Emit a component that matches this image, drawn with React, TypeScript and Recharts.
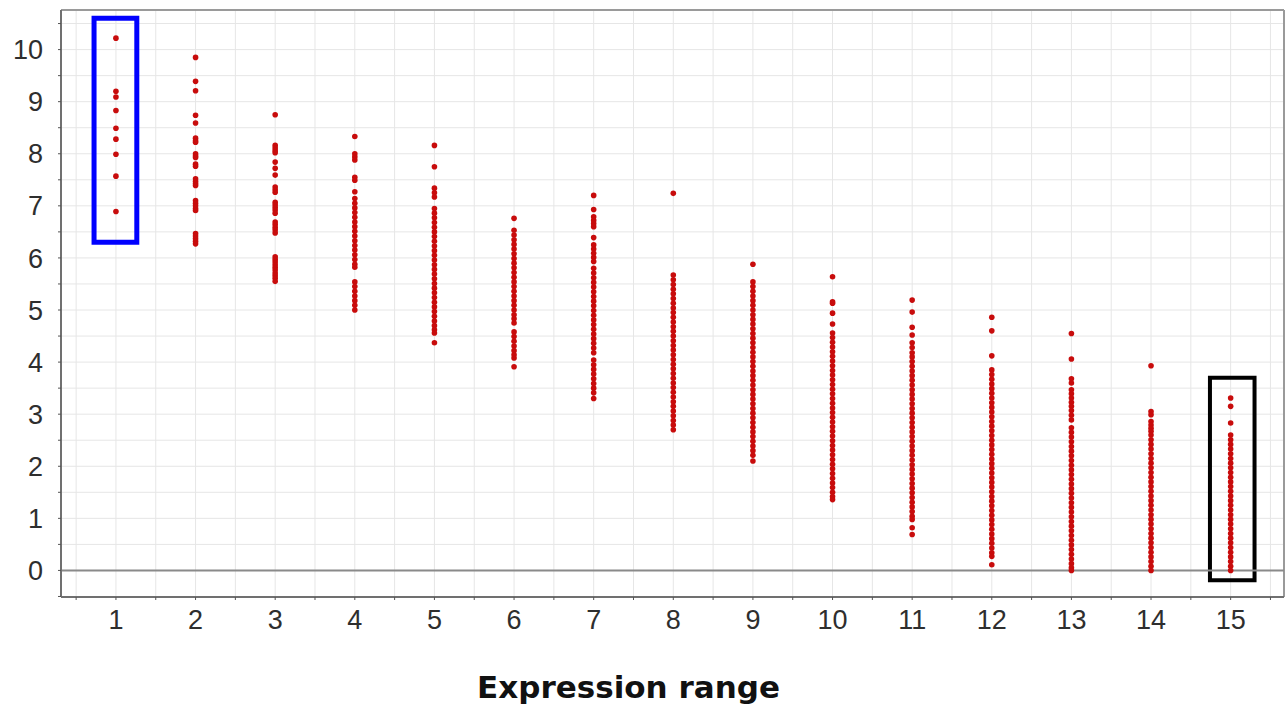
import { ScatterChart, Scatter, XAxis, YAxis, CartesianGrid, ReferenceLine, ReferenceArea } from "recharts";

// expression range categories (x) and the values read per category (y)
const expressionRange = [1, 2, 3, 4, 5, 6, 7, 8, 9, 10, 11, 12, 13, 14, 15];

const range1 = [10.22, 9.2, 9.09, 8.83, 8.49, 8.28, 7.99, 7.57, 6.89];
const range2 = [9.85, 9.39, 9.21, 8.74, 8.59, 8.3, 8.25, 8.22, 8.0, 7.96, 7.93, 7.8, 7.76, 7.52, 7.47, 7.43, 7.39, 7.1, 7.05, 7.0, 6.95, 6.91, 6.47, 6.42, 6.37, 6.32, 6.27];
const range3 = [8.75, 8.16, 8.11, 8.06, 8.02, 7.84, 7.72, 7.59, 7.36, 7.31, 7.26, 7.07, 7.02, 6.97, 6.92, 6.86, 6.69, 6.64, 6.59, 6.54, 6.48, 6.02, 5.97, 5.92, 5.87, 5.82, 5.77, 5.71, 5.66, 5.61, 5.55];
const range4 = [8.33, 8.0, 7.94, 7.88, 7.55, 7.49, 7.27, 7.14, 7.05, 6.96, 6.87, 6.78, 6.69, 6.6, 6.51, 6.42, 6.33, 6.24, 6.15, 6.06, 5.97, 5.88, 5.82, 5.54, 5.45, 5.36, 5.27, 5.18, 5.09, 5.0];
const range5 = [8.16, 7.75, 7.34, 7.25, 7.17, 6.95, 6.86, 6.77, 6.68, 6.59, 6.5, 6.41, 6.32, 6.23, 6.14, 6.05, 5.96, 5.87, 5.78, 5.69, 5.6, 5.51, 5.42, 5.33, 5.24, 5.15, 5.06, 4.97, 4.88, 4.79, 4.7, 4.62, 4.56, 4.37];
const range6 = [6.76, 6.53, 6.44, 6.35, 6.26, 6.17, 6.08, 5.99, 5.9, 5.81, 5.72, 5.63, 5.54, 5.45, 5.36, 5.27, 5.18, 5.09, 5.0, 4.91, 4.83, 4.75, 4.58, 4.49, 4.4, 4.31, 4.22, 4.14, 4.08, 3.91];
const range7 = [7.2, 6.93, 6.79, 6.72, 6.66, 6.6, 6.39, 6.25, 6.17, 6.09, 6.01, 5.93, 5.8, 5.71, 5.62, 5.53, 5.44, 5.35, 5.26, 5.17, 5.08, 4.99, 4.9, 4.81, 4.72, 4.63, 4.54, 4.45, 4.36, 4.27, 4.18, 4.04, 3.95, 3.86, 3.77, 3.68, 3.59, 3.5, 3.41, 3.3];
const range8 = [7.24, 5.67, 5.58, 5.49, 5.4, 5.31, 5.22, 5.13, 5.04, 4.95, 4.86, 4.77, 4.68, 4.59, 4.5, 4.41, 4.32, 4.23, 4.14, 4.05, 3.96, 3.87, 3.78, 3.69, 3.6, 3.51, 3.42, 3.33, 3.24, 3.15, 3.06, 2.97, 2.88, 2.79, 2.7];
const range9 = [5.88, 5.54, 5.45, 5.36, 5.27, 5.18, 5.09, 5.0, 4.91, 4.82, 4.73, 4.64, 4.55, 4.46, 4.37, 4.28, 4.19, 4.1, 4.01, 3.92, 3.83, 3.74, 3.65, 3.56, 3.47, 3.38, 3.29, 3.2, 3.11, 3.02, 2.93, 2.84, 2.75, 2.66, 2.57, 2.48, 2.39, 2.3, 2.21, 2.1];
const range10 = [5.64, 5.16, 5.13, 4.94, 4.73, 4.56, 4.47, 4.38, 4.29, 4.2, 4.11, 4.02, 3.93, 3.84, 3.75, 3.66, 3.57, 3.48, 3.39, 3.3, 3.21, 3.12, 3.03, 2.94, 2.85, 2.76, 2.67, 2.58, 2.49, 2.4, 2.31, 2.22, 2.13, 2.04, 1.95, 1.86, 1.77, 1.68, 1.59, 1.5, 1.42, 1.36];
const range11 = [5.19, 4.96, 4.67, 4.52, 4.37, 4.28, 4.18, 4.1, 4.01, 3.92, 3.83, 3.74, 3.65, 3.56, 3.47, 3.38, 3.29, 3.2, 3.11, 3.02, 2.93, 2.84, 2.75, 2.66, 2.57, 2.48, 2.39, 2.3, 2.21, 2.12, 2.03, 1.94, 1.85, 1.76, 1.67, 1.58, 1.49, 1.4, 1.31, 1.22, 1.13, 1.04, 0.98, 0.82, 0.69];
const range12 = [4.86, 4.6, 4.12, 3.85, 3.76, 3.67, 3.58, 3.49, 3.4, 3.31, 3.22, 3.13, 3.04, 2.95, 2.86, 2.77, 2.68, 2.59, 2.5, 2.41, 2.32, 2.23, 2.14, 2.05, 1.96, 1.87, 1.78, 1.69, 1.6, 1.51, 1.42, 1.33, 1.24, 1.15, 1.06, 0.97, 0.88, 0.79, 0.7, 0.61, 0.52, 0.43, 0.34, 0.27, 0.11];
const range13 = [4.55, 4.06, 3.68, 3.6, 3.47, 3.39, 3.31, 3.23, 3.15, 3.07, 2.98, 2.89, 2.74, 2.65, 2.56, 2.47, 2.38, 2.29, 2.2, 2.11, 2.02, 1.93, 1.84, 1.75, 1.66, 1.57, 1.48, 1.39, 1.3, 1.21, 1.12, 1.03, 0.94, 0.85, 0.76, 0.67, 0.58, 0.49, 0.4, 0.31, 0.22, 0.13, 0.05, 0];
const range14 = [3.93, 3.05, 2.99, 2.86, 2.79, 2.73, 2.67, 2.6, 2.51, 2.42, 2.33, 2.24, 2.15, 2.06, 1.97, 1.88, 1.79, 1.7, 1.61, 1.52, 1.43, 1.34, 1.25, 1.16, 1.07, 0.98, 0.89, 0.8, 0.71, 0.62, 0.53, 0.44, 0.35, 0.26, 0.17, 0.08, 0];
const range15 = [3.31, 3.15, 2.83, 2.6, 2.51, 2.42, 2.33, 2.24, 2.15, 2.06, 1.97, 1.88, 1.79, 1.7, 1.61, 1.52, 1.43, 1.34, 1.25, 1.16, 1.07, 0.98, 0.89, 0.8, 0.71, 0.62, 0.53, 0.44, 0.35, 0.26, 0.17, 0.08, 0];

const groups = [range1, range2, range3, range4, range5, range6, range7, range8, range9, range10, range11, range12, range13, range14, range15];

const xTicks = [0.5, 1, 1.5, 2, 2.5, 3, 3.5, 4, 4.5, 5, 5.5, 6, 6.5, 7, 7.5, 8, 8.5, 9, 9.5, 10, 10.5, 11, 11.5, 12, 12.5, 13, 13.5, 14, 14.5, 15, 15.5];
const yTicks = [-0.5, 0, 0.5, 1, 1.5, 2, 2.5, 3, 3.5, 4, 4.5, 5, 5.5, 6, 6.5, 7, 7.5, 8, 8.5, 9, 9.5, 10, 10.5];

// highlighted groups (lowest and highest expression range)
const blueBox = { x1: 0.725, x2: 1.262, y1: 6.3, y2: 10.6 };
const blackBox = { x1: 14.74, x2: 15.3, y1: -0.19, y2: 3.7 };

const X_MIN = 0.31, X_MAX = 15.67;
const Y_MIN = -0.51, Y_MAX = 10.76;

const points = expressionRange.flatMap((r, i) => groups[i].map(v => ({ x: r, y: v })));

const tickStyle = { fill: "#2e2e2e", fontSize: 27, fontFamily: "'Liberation Sans', Arial, sans-serif" };
const fmt = (v: number) => (Number.isInteger(v) ? String(v) : "");

const Dot = (p: any) => <circle cx={p.cx} cy={p.cy} r={2.8} fill="#c80c0c" />;

export default function App() {
  return (
    <div style={{ position: "absolute", left: 0, top: 0, width: 1286, height: 710, background: "#fff" }}>
      <ScatterChart width={1286} height={710} margin={{ top: 10, right: 2, bottom: 0, left: 1 }}>
        <CartesianGrid stroke="#e6e6e6" strokeWidth={1} />
        <XAxis
          type="number" dataKey="x" domain={[X_MIN, X_MAX]} allowDataOverflow ticks={xTicks} interval={0}
          tickFormatter={fmt} tick={tickStyle} tickSize={3} tickMargin={10} height={113}
          axisLine={{ stroke: "#707070", strokeWidth: 2 }} tickLine={{ stroke: "#555" }}
          label={{
            content: (props: any) => {
              const vb = props.viewBox;
              return (
                <text x={vb.x + vb.width / 2 - 44} y={698} textAnchor="middle" fill="#111"
                  style={{ fontSize: 31, fontWeight: "bold", fontFamily: "'DejaVu Sans', sans-serif" }}>
                  Expression range
                </text>
              );
            },
          }}
        />
        <YAxis
          type="number" dataKey="y" domain={[Y_MIN, Y_MAX]} allowDataOverflow ticks={yTicks} interval={0}
          tickFormatter={fmt} tick={tickStyle} tickSize={3} tickMargin={15} width={60}
          axisLine={{ stroke: "#707070", strokeWidth: 2 }} tickLine={{ stroke: "#555" }}
        />
        <ReferenceLine y={Y_MAX} stroke="#9a9a9a" strokeWidth={2} />
        <ReferenceLine x={X_MAX} stroke="#9a9a9a" strokeWidth={2} />
        <ReferenceLine y={0} stroke="#8a8a8a" strokeWidth={2} />
        <Scatter data={points} shape={Dot} isAnimationActive={false} />
        <ReferenceArea {...blueBox} fill="none" fillOpacity={0} stroke="#0000ff" strokeWidth={5} ifOverflow="visible" />
        <ReferenceArea {...blackBox} fill="none" fillOpacity={0} stroke="#000" strokeWidth={4} ifOverflow="visible" />
      </ScatterChart>
    </div>
  );
}
